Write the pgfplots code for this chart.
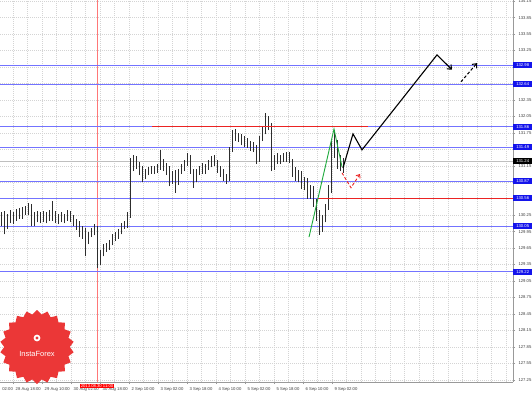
\documentclass[border=0pt]{standalone}
\usepackage{fontspec}
\setmainfont{Liberation Sans}
\usepackage{pgfplots}
\pgfplotsset{compat=1.18}
\usepackage{pgfplotstable}
\usetikzlibrary{shapes.geometric,arrows.meta}

\definecolor{hblue}{RGB}{115,115,255}
\definecolor{lblue}{RGB}{20,20,235}
\definecolor{hred}{RGB}{235,35,35}
\definecolor{vred}{RGB}{255,120,120}
\definecolor{hgreen}{RGB}{30,170,60}
\definecolor{gridc}{RGB}{212,212,212}
\definecolor{candle}{RGB}{45,45,45}
\definecolor{logored}{RGB}{235,55,55}

\pgfplotstableread{
x o h l c
1 130.20 130.30 130.05 130.25
4 130.25 130.32 129.90 130.05
7 130.05 130.28 130.00 130.22
10 130.22 130.35 130.10 130.15
13 130.15 130.30 130.08 130.25
16 130.25 130.36 130.15 130.30
19 130.30 130.38 130.18 130.22
22 130.22 130.40 130.18 130.35
25 130.35 130.42 130.25 130.30
28 130.30 130.48 130.26 130.42
31 130.42 130.45 130.05 130.12
34 130.12 130.30 130.05 130.25
37 130.25 130.33 130.12 130.18
40 130.18 130.30 130.10 130.26
43 130.26 130.32 130.12 130.16
46 130.16 130.30 130.10 130.24
49 130.24 130.35 130.15 130.20
52 130.20 130.50 130.15 130.28
55 130.28 130.32 130.10 130.15
58 130.15 130.28 130.08 130.22
61 130.22 130.30 130.12 130.18
64 130.18 130.28 130.10 130.24
67 130.24 130.34 130.15 130.22
70 130.22 130.32 130.12 130.16
73 130.16 130.26 130.05 130.10
76 130.10 130.18 129.98 130.04
79 130.04 130.14 129.85 129.92
82 129.92 130.05 129.82 129.98
85 129.98 130.02 129.50 129.80
88 129.80 129.95 129.72 129.90
91 129.90 130.02 129.85 129.96
94 129.96 130.08 129.88 130.00
97 130.00 130.05 129.28 129.40
100 129.40 129.62 129.35 129.58
103 129.58 129.72 129.50 129.66
106 129.66 129.75 129.58 129.70
109 129.70 129.80 129.62 129.74
112 129.74 129.90 129.70 129.85
115 129.85 129.95 129.78 129.88
118 129.88 130.00 129.82 129.96
121 129.96 130.10 129.90 130.05
124 130.05 130.15 130.00 130.08
127 130.08 130.30 130.02 130.25
130 130.25 131.30 130.20 131.20
133 131.20 131.35 131.05 131.25
136 131.25 131.32 131.10 131.15
139 131.15 131.22 130.98 131.05
142 131.05 131.15 130.86 130.95
145 130.95 131.10 130.90 131.05
148 131.05 131.12 130.98 131.08
151 131.08 131.14 131.00 131.05
154 131.05 131.15 131.00 131.10
157 131.10 131.18 131.02 131.12
160 131.12 131.44 131.08 131.20
163 131.20 131.28 131.05 131.12
166 131.12 131.20 130.98 131.05
169 131.05 131.15 130.78 130.90
172 130.90 131.05 130.82 131.00
175 131.00 131.08 130.66 130.85
178 130.85 131.10 130.80 131.05
181 131.05 131.18 131.00 131.12
184 131.12 131.25 131.05 131.20
187 131.20 131.38 131.15 131.30
190 131.30 131.35 131.00 131.05
193 131.05 131.10 130.75 130.90
196 130.90 131.10 130.85 131.05
199 131.05 131.15 130.98 131.10
202 131.10 131.20 131.00 131.05
205 131.05 131.18 131.00 131.15
208 131.15 131.25 131.08 131.20
211 131.20 131.32 131.12 131.28
214 131.28 131.35 131.15 131.20
217 131.20 131.25 131.02 131.08
220 131.08 131.15 130.95 131.05
223 131.05 131.10 130.88 130.95
226 130.95 131.00 130.82 130.90
229 130.90 131.50 130.88 131.45
232 131.45 131.80 131.40 131.72
235 131.72 131.82 131.60 131.68
238 131.68 131.75 131.58 131.62
241 131.62 131.72 131.52 131.66
244 131.66 131.70 131.50 131.56
247 131.56 131.65 131.48 131.52
250 131.52 131.60 131.42 131.50
253 131.50 131.58 131.40 131.45
256 131.45 131.52 131.18 131.25
259 131.25 131.70 131.22 131.65
262 131.65 131.85 131.60 131.78
265 131.78 132.11 131.72 131.95
268 131.95 132.05 131.80 131.88
271 131.88 131.92 131.05 131.20
274 131.20 131.35 131.08 131.28
277 131.28 131.38 131.18 131.25
280 131.25 131.35 131.18 131.30
283 131.30 131.38 131.22 131.28
286 131.28 131.40 131.22 131.34
289 131.34 131.40 131.20 131.25
292 131.25 131.28 130.95 131.05
295 131.05 131.12 130.88 130.95
298 130.95 131.08 130.85 131.00
301 131.00 131.05 130.72 130.80
304 130.80 130.95 130.70 130.88
307 130.88 130.92 130.55 130.65
310 130.65 130.80 130.55 130.72
313 130.72 130.78 130.40 130.48
316 130.48 130.55 130.15 130.25
319 130.25 130.35 129.89 130.05
322 130.05 130.25 129.95 130.18
325 130.18 130.45 130.12 130.40
328 130.40 130.80 130.35 130.70
331 130.70 131.60 130.65 131.45
334 131.45 131.80 131.30 131.55
337 131.55 131.62 131.10 131.20
340 131.20 131.35 131.05 131.15
343 131.15 131.30 131.02 131.24
}\candles

\tikzset{lbl/.style={fill=lblue, text=white, font=\fontsize{4.2}{5}\selectfont, inner sep=0.4pt, minimum height=6pt, minimum width=19pt, anchor=west, align=left}}

\begin{document}
\begin{tikzpicture}
\fill[white] (0,0) rectangle (532pt,394pt);
\begin{axis}[
  at={(0pt,12pt)}, anchor=south west,
  scale only axis, width=513pt, height=382pt,
  xmin=0, xmax=513, ymin=127.21, ymax=134.17,
  axis x line*=bottom, axis y line*=right,
  axis line style={draw=gray!80, line width=0.5pt},
  xtick={13,42,...,332},
  xticklabels={28 Aug 18:00, 29 Aug 10:00, 30 Aug 02:00, 30 Aug 18:00, 2 Sep 10:00, 3 Sep 02:00, 3 Sep 18:00, 4 Sep 10:00, 5 Sep 02:00, 5 Sep 18:00, 6 Sep 10:00, 9 Sep 02:00},
  minor xtick={13,27.5,...,513},
  ytick={127.25,127.55,127.85,128.15,128.45,128.75,129.05,129.35,129.65,129.95,130.25,130.55,130.85,131.15,131.45,131.75,132.05,132.35,132.65,132.95,133.25,133.55,133.85,134.15},
  yticklabels={127.25,127.55,127.85,128.15,128.45,128.75,129.05,129.35,129.65,129.95,130.25,,,131.15,,131.75,132.05,132.35,,,133.25,133.55,133.85,134.15},
  xmajorgrids, xminorgrids, ymajorgrids,
  grid style={gridc, dash pattern=on 1pt off 1pt, line width=0.4pt},
  minor grid style={gridc, dash pattern=on 1pt off 1pt, line width=0.4pt},
  tick align=outside, major tick length=2pt, minor tick length=0pt,
  tick style={gray!80, line width=0.4pt},
  yticklabel style={font=\fontsize{4.2}{5}\selectfont, text=black!75},
  xticklabel style={font=\fontsize{4.2}{5}\selectfont, text=black!75, anchor=north west, xshift=-0.8pt},
]
% vertical red marker
\addplot[vred, line width=0.5pt] coordinates {(97,127.21) (97,134.17)};
% current price line
\addplot[gray!50, line width=0.4pt] coordinates {(0,131.24) (513,131.24)};
% blue levels
\addplot[hblue, line width=0.6pt] coordinates {(0,132.98) (513,132.98)};
\addplot[hblue, line width=0.6pt] coordinates {(0,132.64) (513,132.64)};
\addplot[hblue, line width=0.6pt] coordinates {(0,131.86) (513,131.86)};
\addplot[hblue, line width=0.6pt] coordinates {(0,131.49) (513,131.49)};
\addplot[hblue, line width=0.6pt] coordinates {(0,130.87) (513,130.87)};
\addplot[hblue, line width=0.6pt] coordinates {(0,130.56) (513,130.56)};
\addplot[hblue, line width=0.6pt] coordinates {(0,130.05) (513,130.05)};
\addplot[hblue, line width=0.6pt] coordinates {(0,129.22) (513,129.22)};
% candles: wicks and bodies
\addplot[candle, line width=0.4pt, no markers, quiver={u=0, v={\thisrow{h}-\thisrow{l}}}] table[x=x, y=l] {\candles};
\addplot[candle, line width=0.95pt, no markers, quiver={u=0, v={\thisrow{c}-\thisrow{o}}}] table[x=x, y=o] {\candles};
% red levels
\addplot[hred, line width=1.1pt] coordinates {(152,131.86) (368,131.86)};
\addplot[hred, line width=1.1pt] coordinates {(318,130.56) (513,130.56)};
% green impulse
\addplot[hgreen, line width=0.9pt] coordinates {(309,129.85) (334,131.82) (342,131.13)};
% forecast arrows
\addplot[black, line width=1.1pt, -{Straight Barb[length=3.5pt,width=6pt]}] coordinates {(343,131.11) (353,131.73) (362,131.44) (437,133.17) (452,132.90)};
\addplot[black, line width=1.0pt, dash pattern=on 3pt off 2pt, -{Straight Barb[length=3.5pt,width=6pt]}] coordinates {(461,132.68) (477,133.02)};
\addplot[hred, line width=0.9pt, dash pattern=on 3pt off 2pt, -{Straight Barb[length=3pt,width=5pt]}] coordinates {(342,131.02) (351,130.75) (360,131.00)};
% anchors for annotations
\coordinate (L1) at (axis cs:513,132.98);
\coordinate (L2) at (axis cs:513,132.64);
\coordinate (L3) at (axis cs:513,131.86);
\coordinate (L4) at (axis cs:513,131.49);
\coordinate (L5) at (axis cs:513,131.24);
\coordinate (L6) at (axis cs:513,130.87);
\coordinate (L7) at (axis cs:513,130.56);
\coordinate (L8) at (axis cs:513,130.05);
\coordinate (L9) at (axis cs:513,129.22);
\coordinate (D) at (axis cs:97,127.21);
\coordinate (F) at (axis cs:0,127.21);
\end{axis}
\node[lbl] at (L1) {132.98};
\node[lbl] at (L2) {132.64};
\node[lbl] at (L3) {131.86};
\node[lbl] at (L4) {131.49};
\node[lbl, fill=black] at (L5) {131.24};
\node[lbl] at (L6) {130.87};
\node[lbl] at (L7) {130.56};
\node[lbl] at (L8) {130.05};
\node[lbl] at (L9) {129.22};
\node[fill=red, text=white, font=\fontsize{4.2}{5}\selectfont, inner sep=0.8pt, anchor=north] at ([yshift=-1.6pt]D) {2013.08.30 11:00};
\node[text=black!75, font=\fontsize{4.2}{5}\selectfont, anchor=north west, inner sep=0.333em] at ([yshift=-2pt,xshift=-1.2pt]F) {02:00};
% logo
\node[star, star points=22, star point ratio=1.13, fill=logored, minimum size=74pt, inner sep=0pt] at (37pt,47pt) {};
\fill[white] (37pt,56pt) circle (3.4pt);
\fill[logored] (37pt,56pt) circle (1.7pt);
\node[text=white, font=\fontsize{7.5}{8}\selectfont] at (37pt,40pt) {InstaForex};
\pgfresetboundingbox
\path[use as bounding box] (0,0) rectangle (532pt,394pt);
\end{tikzpicture}
\end{document}
